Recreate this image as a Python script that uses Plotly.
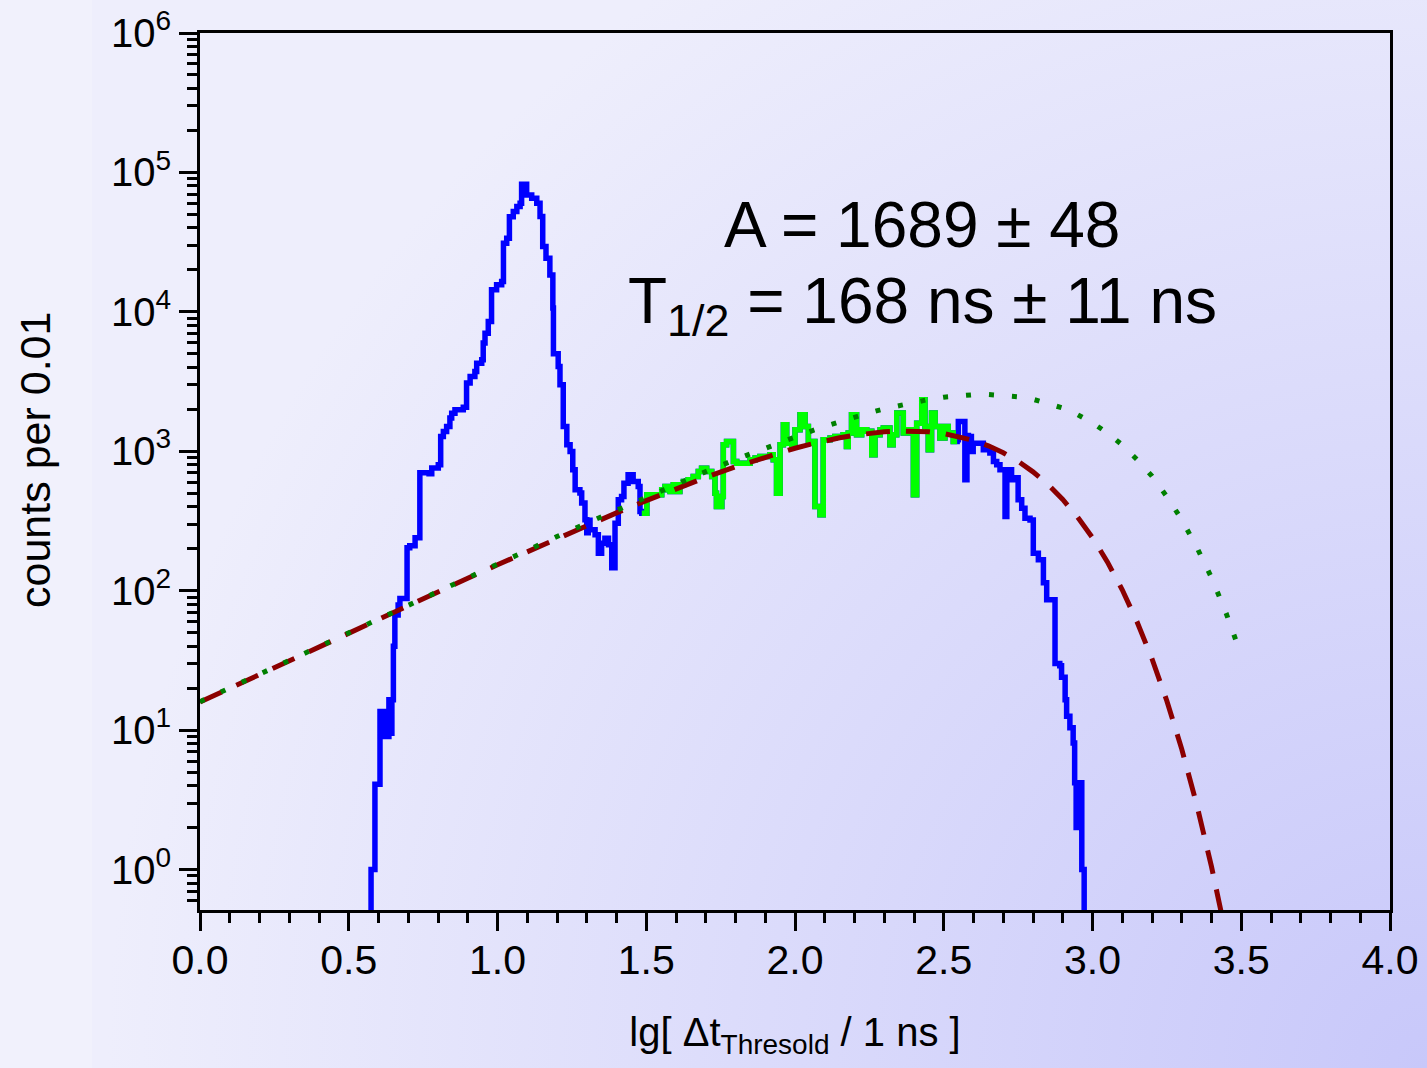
import base64
import plotly.graph_objects as go

# ---------------- histogram: lg(dt) bin starts and counts per 0.01 ----------------
# part before the selected window (blue only)
pre_lg = [0.575, 0.588, 0.605, 0.610, 0.615, 0.620, 0.625, 0.630, 0.635, 0.640,
          0.645, 0.650, 0.655, 0.666, 0.672, 0.696, 0.705, 0.723, 0.739, 0.770,
          0.779, 0.801, 0.809, 0.818, 0.829, 0.840, 0.846, 0.857, 0.885, 0.896,
          0.908, 0.924, 0.930, 0.947, 0.952, 0.958, 0.969, 0.980, 0.997, 1.014,
          1.020, 1.031, 1.040, 1.053, 1.065, 1.076, 1.081, 1.098, 1.115, 1.132,
          1.143, 1.152, 1.163, 1.176, 1.186, 1.188, 1.204, 1.210, 1.221, 1.233,
          1.244, 1.253, 1.261, 1.277, 1.283, 1.294, 1.300, 1.305, 1.311, 1.328,
          1.339, 1.350, 1.361, 1.373, 1.384, 1.395, 1.406, 1.417, 1.425, 1.439,
          1.456, 1.473, 1.479]
pre_counts = [1.0, 4.1, 13.6, 9.0, 13.6, 9.0, 13.6, 9.0, 16.5, 9.5,
              16.5, 40, 67, 79, 88, 203, 210, 240, 702, 690,
              760, 800, 1277, 1385, 1503, 1730, 1876, 1983, 2073, 3083,
              3440, 3728, 4280, 4530, 5970, 7030, 8520, 14380, 15630, 16490,
              31040, 33740, 48190, 52350, 56870, 60080, 82200, 69000, 65400, 60100,
              48200, 29400, 24260, 18410, 10640, 5000, 4060, 3000, 1506, 1114,
              998, 737, 529, 502, 425, 323, 260, 320, 274, 252,
              186, 219, 238, 214, 146, 305, 449, 474, 591, 679,
              608, 560, 370]

# selected window (drawn in green on top of the blue spectrum)
sel_lg = [1.485, 1.502, 1.552, 1.563, 1.580, 1.591, 1.602, 1.613, 1.625, 1.641,
          1.658, 1.675, 1.686, 1.703, 1.720, 1.731, 1.736, 1.754, 1.759, 1.770,
          1.793, 1.804, 1.849, 1.866, 1.882, 1.916, 1.927, 1.938, 1.950, 1.961,
          1.972, 1.989, 2.000, 2.017, 2.034, 2.045, 2.056, 2.067, 2.084, 2.095,
          2.118, 2.134, 2.162, 2.173, 2.179, 2.190, 2.207, 2.224, 2.241, 2.258,
          2.269, 2.286, 2.297, 2.319, 2.330, 2.342, 2.364, 2.381, 2.398, 2.409,
          2.426, 2.437, 2.448, 2.459, 2.471, 2.487, 2.504, 2.515, 2.532]
sel_counts = [360, 488, 530, 560, 515, 575, 515, 575, 608, 625,
              660, 716, 757, 716, 660, 501, 402, 474, 1114, 1176,
              845, 820, 869, 894, 918, 944, 869, 501, 1114, 1549,
              1143, 1080, 1426, 1828, 1506, 1143, 1176, 402, 351, 1208,
              1243, 1278, 1314, 1080, 1350, 1828, 1314, 1426, 1390, 944,
              1314, 1426, 1466, 1114, 1314, 1880, 1350, 1426, 488, 1589,
              2340, 1506, 1026, 1880, 1506, 1243, 1506, 1350, 1176]
sel_end_lg = 2.545

# part after the selected window (blue only)
post_lg = [2.545, 2.549, 2.571, 2.578, 2.583, 2.593, 2.599, 2.633, 2.655, 2.667,
           2.678, 2.689, 2.706, 2.712, 2.728, 2.739, 2.750, 2.762, 2.773, 2.790,
           2.801, 2.818, 2.835, 2.846, 2.874, 2.890, 2.896, 2.908, 2.913, 2.924,
           2.935, 2.940, 2.945, 2.950, 2.955, 2.960, 2.964]
post_counts = [1208, 1633, 625, 1300, 1278, 998, 1143, 1026, 974, 845,
               800, 737, 340, 737, 625, 645, 450, 391, 331, 322,
               186, 167, 114, 86, 30, 29, 24, 16.5, 12.6, 10.4,
               8.1, 4.2, 2.0, 4.2, 2.0, 4.2, 1.0]
hist_end_lg = 2.972
EMPTY = 0.05  # empty bins sit below the lower edge of the log axis

# ---------------- fitted curves ----------------
fit_lg = [0.0, 0.1, 0.2, 0.3, 0.4, 0.5, 0.6, 0.7, 0.8, 0.9,
          1.0, 1.1, 1.2, 1.3, 1.4, 1.5, 1.6, 1.7, 1.8, 1.9,
          2.0, 2.05, 2.1, 2.15, 2.2, 2.25, 2.3, 2.35, 2.4, 2.45,
          2.5, 2.55, 2.6, 2.65, 2.7, 2.75, 2.8, 2.85, 2.9, 2.95,
          3.0, 3.05, 3.1, 3.15, 3.2, 3.25, 3.3, 3.35, 3.4, 3.45]
fit_counts = [15.9, 20.0, 25.2, 31.7, 39.8, 49.9, 62.6, 78.5, 98.3, 122.9,
              153.4, 191.0, 237.3, 293.5, 361.6, 443.0, 538.9, 649.6, 774.5, 910.3,
              1051, 1120, 1187, 1249, 1303, 1348, 1381, 1398, 1399, 1380,
              1340, 1278, 1196, 1094, 976, 847, 712, 579, 451, 337,
              240, 161, 101.5, 59.7, 32.5, 16.2, 7.31, 2.94, 1.05, 0.33]

alt_lg = fit_lg + [3.5]
alt_counts = [16.0, 20.1, 25.3, 31.8, 40.0, 50.2, 63.1, 79.3, 99.5, 124.8,
              156.4, 195.6, 244.5, 304.9, 379.3, 470.4, 581.2, 714.5, 873.1, 1058,
              1271, 1386, 1507, 1633, 1760, 1889, 2016, 2138, 2253, 2355,
              2443, 2506, 2546, 2554, 2527, 2462, 2361, 2217, 2042, 1829,
              1598, 1354, 1109, 871, 663, 473, 323, 206, 124, 68.3, 34.4]

# axis labels
x_ticks = [0.0, 0.5, 1.0, 1.5, 2.0, 2.5, 3.0, 3.5, 4.0]
y_decades = [0, 1, 2, 3, 4, 5, 6]

# ---------------- figure geometry ----------------
W, H = 1427, 1068
ML, MR, MT, MB = 200, 37, 33, 158
PW, PH = W - ML - MR, H - MT - MB

fig = go.Figure()

# full spectrum
spec_x = [pre_lg[0]] + pre_lg + sel_lg + post_lg + [hist_end_lg]
spec_y = [EMPTY] + pre_counts + sel_counts + post_counts + [EMPTY]
fig.add_trace(go.Scatter(x=spec_x, y=spec_y, mode="lines", line_shape="hv",
                         line=dict(color="#0000FF", width=5.5), hoverinfo="skip"))

# selected window
fig.add_trace(go.Scatter(x=sel_lg + [sel_end_lg], y=sel_counts + [sel_counts[-1]],
                         mode="lines", line_shape="hv",
                         line=dict(color="#00FF00", width=5.5), hoverinfo="skip"))

# fit curves
fig.add_trace(go.Scatter(x=fit_lg, y=fit_counts, mode="lines",
                         line=dict(color="#8B0000", width=5, dash="24px,16px"),
                         hoverinfo="skip"))
fig.add_trace(go.Scatter(x=alt_lg, y=alt_counts, mode="lines",
                         line=dict(color="#008000", width=5, dash="5px,18px"),
                         hoverinfo="skip"))

# background: soft radial shading toward the lower right
svg = (
    f'<svg xmlns="http://www.w3.org/2000/svg" width="{W}" height="{H}" '
    f'viewBox="0 0 {W} {H}" preserveAspectRatio="none">'
    '<defs><radialGradient id="g" cx="1427" cy="1068" r="1320" gradientUnits="userSpaceOnUse">'
    '<stop offset="0" stop-color="#C8C8FA"/><stop offset="1" stop-color="#EEEEFC"/>'
    '</radialGradient></defs>'
    f'<rect width="{W}" height="{H}" fill="url(#g)"/>'
    f'<rect width="92" height="{H}" fill="#FFFFFF" fill-opacity="0.2"/>'
    '</svg>'
)
bg_src = "data:image/svg+xml;base64," + base64.b64encode(svg.encode()).decode()
fig.add_layout_image(dict(source=bg_src, xref="paper", yref="paper",
                          x=-ML / PW, y=1 + MT / PH, sizex=W / PW, sizey=H / PH,
                          xanchor="left", yanchor="top", sizing="stretch",
                          layer="below"))

FONT = "Liberation Sans, Arial, Helvetica, sans-serif"

minor_y = [m * 10 ** d for d in range(-1, 6) for m in range(2, 10)]

fig.update_layout(
    width=W, height=H,
    margin=dict(l=ML, r=MR, t=MT, b=MB, autoexpand=False),
    paper_bgcolor="#EEEEFC",
    plot_bgcolor="rgba(0,0,0,0)",
    showlegend=False,
    font=dict(family=FONT, color="black", size=40),
    xaxis=dict(
        range=[0, 4], tickvals=x_ticks, ticktext=[f"{v:.1f}" for v in x_ticks],
        ticks="outside", ticklen=18, tickwidth=2.5, tickcolor="black",
        showline=True, linewidth=3, linecolor="black", mirror=True,
        showgrid=False, zeroline=False, automargin=False,
        tickfont=dict(size=41), ticklabelstandoff=-6,
        minor=dict(dtick=0.1, tick0=0, ticks="outside", ticklen=10, tickwidth=2.5,
                   tickcolor="black", showgrid=False),
        title=dict(text="lg[ Δt<sub>Thresold</sub> / 1 ns ]", font=dict(size=40),
                   standoff=36),
    ),
    yaxis=dict(
        type="log", range=[-0.29, 6],
        tickvals=[10 ** d for d in y_decades],
        ticktext=[f"10<sup>{d}</sup>" for d in y_decades],
        ticks="outside", ticklen=18, tickwidth=2.5, tickcolor="black",
        showline=True, linewidth=3, linecolor="black", mirror=True,
        showgrid=False, zeroline=False, automargin=False,
        tickfont=dict(size=40),
        minor=dict(tickvals=minor_y, ticks="outside", ticklen=10, tickwidth=2.5,
                   tickcolor="black", showgrid=False),
    ),
)

# y-axis title, placed slightly above the plot's vertical centre
fig.add_annotation(text="counts per 0.01", xref="paper", yref="paper",
                   x=(35 - ML) / PW, y=(MT + PH - 460) / PH, textangle=-90,
                   xanchor="center", yanchor="middle", showarrow=False,
                   font=dict(size=43, family=FONT, color="black"))

fig.add_annotation(text="A = 1689 ± 48", xref="paper", yref="paper",
                   x=(922 - ML) / PW, y=(MT + PH - 225) / PH,
                   xanchor="center", yanchor="middle", showarrow=False,
                   font=dict(size=64, family=FONT, color="black"))
fig.add_annotation(text="T<sub>1/2</sub> = 168 ns ± 11 ns", xref="paper", yref="paper",
                   x=(923 - ML) / PW, y=(MT + PH - 305) / PH,
                   xanchor="center", yanchor="middle", showarrow=False,
                   font=dict(size=64, family=FONT, color="black"))

fig.write_html("out.html")
